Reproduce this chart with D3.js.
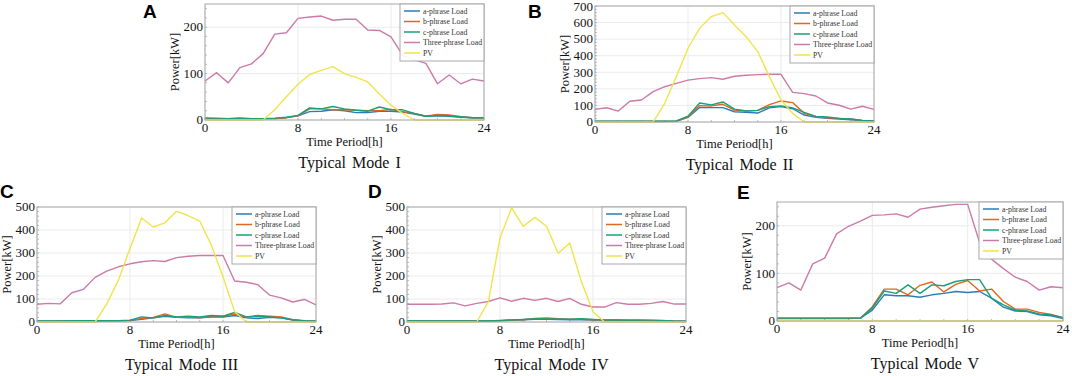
<!DOCTYPE html>
<html>
<head>
<meta charset="utf-8">
<script src="https://cdn.jsdelivr.net/npm/d3@7"></script>
<style>
  body { margin: 0; background: #fff; }
  svg { display: block; }
</style>
</head>
<body>
<script>
// 五种典型模式下的各相负荷与光伏出力

const hours = [0, 1, 2, 3, 4, 5, 6, 7, 8, 9, 10, 11, 12, 13, 14, 15, 16, 17, 18, 19, 20, 21, 22, 23, 24]
const seriesNames = ['a-phrase Load', 'b-phrase Load', 'c-phrase Load', 'Three-phrase Load', 'PV']
const seriesColors = ['#2a7bb8', '#e0671c', '#1a9f78', '#cc7aa8', '#f0e44a']
const modeTitles = ['Typical Mode I', 'Typical Mode II', 'Typical Mode III', 'Typical Mode IV', 'Typical Mode V']
const panelLetters = ['A', 'B', 'C', 'D', 'E']
const xTicks = [0, 8, 16, 24]
const yMax = [250, 700, 500, 500, 250]
const yTicks = [
  [0, 100, 200],
  [0, 100, 200, 300, 400, 500, 600, 700],
  [0, 100, 200, 300, 400, 500],
  [0, 100, 200, 300, 400, 500],
  [0, 100, 200]
]

// Mode I
const aLoadI = [4, 3, 3, 3, 3, 3, 3, 5, 9, 18, 19, 22, 20, 16, 16, 19, 19, 17, 13, 8, 9, 8, 6, 5, 5]
const bLoadI = [3, 3, 3, 4, 3, 3, 3, 5, 9, 24, 24, 22, 22, 21, 20, 20, 23, 18, 14, 8, 12, 11, 7, 5, 5]
const cLoadI = [4, 4, 3, 4, 3, 3, 4, 6, 10, 26, 24, 29, 24, 21, 19, 28, 22, 22, 14, 8, 10, 9, 7, 5, 5]
const threeLoadI = [84, 102, 80, 113, 121, 143, 185, 188, 219, 222, 224, 215, 217, 217, 194, 193, 179, 140, 130, 122, 78, 97, 78, 88, 84]
const pvI = [0, 0, 0, 0, 0, 0, 22, 50, 77, 98, 107, 115, 100, 92, 82, 56, 32, 14, 0, 0, 0, 0, 0, 0, 0]

// Mode II
const aLoadII = [4, 4, 4, 4, 4, 4, 4, 5, 28, 87, 87, 87, 62, 58, 54, 85, 93, 80, 42, 28, 22, 18, 14, 8, 6]
const bLoadII = [3, 3, 3, 3, 3, 3, 3, 4, 30, 99, 97, 107, 72, 66, 70, 105, 127, 117, 52, 32, 26, 22, 18, 10, 6]
const cLoadII = [5, 5, 5, 5, 5, 5, 5, 6, 35, 115, 103, 121, 78, 66, 70, 93, 97, 85, 58, 34, 30, 22, 18, 10, 6]
const threeLoadII = [76, 86, 66, 125, 133, 183, 213, 233, 253, 262, 268, 258, 276, 282, 286, 288, 288, 179, 171, 157, 115, 101, 78, 95, 76]
const pvII = [0, 0, 0, 0, 0, 0, 113, 274, 445, 565, 636, 660, 585, 515, 425, 274, 133, 52, 0, 0, 0, 0, 0, 0, 0]

// Mode III
const aLoadIII = [4, 4, 4, 4, 4, 4, 5, 5, 6, 12, 18, 25, 20, 18, 18, 22, 22, 28, 18, 15, 20, 18, 8, 5, 4]
const bLoadIII = [4, 4, 4, 5, 5, 5, 5, 5, 7, 15, 20, 35, 20, 22, 18, 25, 25, 35, 22, 28, 25, 22, 10, 5, 4]
const cLoadIII = [5, 5, 5, 6, 6, 6, 6, 6, 8, 22, 18, 28, 22, 25, 22, 28, 25, 42, 22, 25, 22, 18, 10, 6, 5]
const threeLoadIII = [77, 81, 79, 127, 142, 194, 221, 240, 253, 262, 267, 263, 280, 286, 289, 289, 289, 178, 173, 162, 117, 105, 87, 98, 74]
const pvIII = [0, 0, 0, 0, 0, 0, 79, 182, 320, 452, 413, 431, 481, 463, 439, 334, 197, 45, 0, 0, 0, 0, 0, 0, 0]

// Mode IV
const aLoadIV = [5, 5, 5, 5, 5, 5, 5, 5, 6, 8, 10, 12, 12, 11, 10, 10, 9, 8, 8, 7, 7, 6, 6, 4, 3]
const bLoadIV = [4, 4, 4, 4, 4, 4, 4, 4, 5, 8, 10, 15, 18, 14, 12, 12, 10, 8, 8, 8, 8, 7, 6, 4, 3]
const cLoadIV = [5, 5, 5, 5, 5, 5, 5, 5, 7, 9, 11, 14, 13, 13, 12, 14, 11, 9, 9, 8, 8, 8, 7, 4, 3]
const threeLoadIV = [77, 77, 77, 78, 83, 70, 81, 89, 105, 90, 103, 94, 103, 89, 103, 77, 65, 65, 84, 77, 77, 81, 89, 78, 78]
const pvIV = [0, 0, 0, 0, 0, 0, 0, 89, 365, 496, 416, 455, 416, 299, 343, 176, 45, 0, 0, 0, 0, 0, 0, 0, 0]

// Mode V
const aLoadV = [5, 5, 5, 5, 5, 5, 5, 6, 23, 55, 53, 53, 50, 55, 58, 62, 60, 62, 48, 29, 21, 20, 13, 11, 5]
const bLoadV = [6, 6, 6, 6, 6, 6, 6, 6, 30, 67, 67, 55, 75, 82, 61, 77, 85, 63, 67, 41, 25, 25, 18, 14, 7]
const cLoadV = [6, 6, 6, 6, 6, 6, 6, 6, 27, 63, 58, 76, 58, 76, 74, 83, 87, 87, 48, 34, 23, 21, 15, 13, 7]
const threeLoadV = [70, 80, 65, 120, 132, 183, 199, 210, 222, 223, 225, 218, 235, 239, 242, 245, 245, 165, 130, 110, 92, 83, 65, 72, 70]
const pvV = [0, 0, 0, 0, 0, 0, 0, 0, 0, 0, 0, 0, 0, 0, 0, 0, 0, 0, 0, 0, 0, 0, 0, 0, 0]

const modeSeries = [
  [aLoadI, bLoadI, cLoadI, threeLoadI, pvI],
  [aLoadII, bLoadII, cLoadII, threeLoadII, pvII],
  [aLoadIII, bLoadIII, cLoadIII, threeLoadIII, pvIII],
  [aLoadIV, bLoadIV, cLoadIV, threeLoadIV, pvIV],
  [aLoadV, bLoadV, cLoadV, threeLoadV, pvV]
]

// 每个子图的绘图区位置
const boxes = [
  { left: 205, right: 484, top: 4, bottom: 120, lx: 143, ly: 18 },
  { left: 595, right: 874, top: 6, bottom: 122, lx: 528, ly: 18 },
  { left: 37, right: 316, top: 207, bottom: 322, lx: 0, ly: 198 },
  { left: 407, right: 686, top: 207, bottom: 322, lx: 368, ly: 198 },
  { left: 777, right: 1063, top: 202, bottom: 321, lx: 737, ly: 199 }
]

const serif = '"Liberation Serif", "Times New Roman", serif'

const svg = d3.select('body').append('svg')
  .attr('width', 1072)
  .attr('height', 376)

boxes.forEach(function (b, p) {
  let x = d3.scaleLinear().domain([0, 24]).range([b.left, b.right])
  let y = d3.scaleLinear().domain([0, yMax[p]]).range([b.bottom, b.top])
  let g = svg.append('g')

  // 网格线
  g.selectAll('.gx').data(xTicks).enter().append('line')
    .attr('x1', d => x(d)).attr('x2', d => x(d))
    .attr('y1', b.top).attr('y2', b.bottom)
    .attr('stroke', '#ebebeb').attr('stroke-width', 1)
  g.selectAll('.gy').data(yTicks[p]).enter().append('line')
    .attr('x1', b.left).attr('x2', b.right)
    .attr('y1', d => y(d)).attr('y2', d => y(d))
    .attr('stroke', '#ebebeb').attr('stroke-width', 1)

  // 次刻度
  let minorY = d3.range(0, yMax[p] + 0.1, 20)
  g.selectAll('.my').data(minorY).enter().append('line')
    .attr('x1', b.left).attr('x2', b.left + 2)
    .attr('y1', d => y(d)).attr('y2', d => y(d))
    .attr('stroke', '#aaa').attr('stroke-width', 0.8)
  g.selectAll('.mx').data(d3.range(0, 25, 2)).enter().append('line')
    .attr('x1', d => x(d)).attr('x2', d => x(d))
    .attr('y1', b.bottom).attr('y2', b.bottom - 2)
    .attr('stroke', '#aaa').attr('stroke-width', 0.8)

  // 折线
  let line = d3.line()
    .x((d, i) => x(hours[i]))
    .y(d => y(d))
  modeSeries[p].forEach(function (vals, k) {
    g.append('path')
      .datum(vals)
      .attr('d', line)
      .attr('fill', 'none')
      .attr('stroke', seriesColors[k])
      .attr('stroke-width', 1.4)
      .attr('stroke-linejoin', 'round')
  })

  // 边框
  g.append('rect')
    .attr('x', b.left).attr('y', b.top)
    .attr('width', b.right - b.left).attr('height', b.bottom - b.top)
    .attr('fill', 'none').attr('stroke', '#a8a8a8').attr('stroke-width', 1)

  // 坐标轴文字
  g.selectAll('.tx').data(xTicks).enter().append('text')
    .attr('x', d => x(d)).attr('y', b.bottom + 12)
    .attr('text-anchor', 'middle')
    .style('font-family', serif).style('font-size', '13px').attr('fill', '#111')
    .text(d => d)
  g.selectAll('.ty').data(yTicks[p]).enter().append('text')
    .attr('x', b.left - 2).attr('y', d => Math.max(y(d), 7))
    .attr('dy', '0.33em')
    .attr('text-anchor', 'end')
    .style('font-family', serif).style('font-size', '13px').attr('fill', '#111')
    .text(d => d)

  g.append('text')
    .attr('transform', 'translate(' + (b.left - 30) + ',' + (b.top + b.bottom) / 2 + ')rotate(-90)')
    .attr('dy', '0.35em')
    .attr('text-anchor', 'middle')
    .style('font-family', serif).style('font-size', '12.5px').attr('fill', '#111')
    .text('Power[kW]')
  g.append('text')
    .attr('x', (b.left + b.right) / 2).attr('y', b.bottom + 26)
    .attr('text-anchor', 'middle')
    .style('font-family', serif).style('font-size', '12.5px').attr('fill', '#111')
    .text('Time Period[h]')
  g.append('text')
    .attr('x', (b.left + b.right) / 2 + 5).attr('y', b.bottom + 48)
    .attr('text-anchor', 'middle')
    .style('font-family', serif).style('font-size', '16px').attr('fill', '#111')
    .style('word-spacing', '2px')
    .text(modeTitles[p])

  // 子图编号
  g.append('text')
    .attr('x', b.lx).attr('y', b.ly)
    .style('font-family', '"Liberation Sans", Arial, sans-serif')
    .style('font-size', '19px').style('font-weight', 'bold').attr('fill', '#000')
    .text(panelLetters[p])

  // 图例
  let lw = 84
  let lg = g.append('g').attr('transform', 'translate(' + (b.right - lw) + ',' + b.top + ')')
  lg.append('rect')
    .attr('width', lw).attr('height', 57)
    .attr('fill', '#fff').attr('fill-opacity', 0.92)
    .attr('stroke', '#a8a8a8').attr('stroke-width', 1)
  seriesNames.forEach(function (name, k) {
    let yy = 7 + k * 10.5
    lg.append('line')
      .attr('x1', 4).attr('x2', 20).attr('y1', yy).attr('y2', yy)
      .attr('stroke', seriesColors[k]).attr('stroke-width', 1.5)
    lg.append('text')
      .attr('x', 23).attr('y', yy).attr('dy', '0.33em')
      .style('font-family', serif).style('font-size', '7.8px').attr('fill', '#333')
      .text(name)
  })
})
</script>
</body>
</html>
